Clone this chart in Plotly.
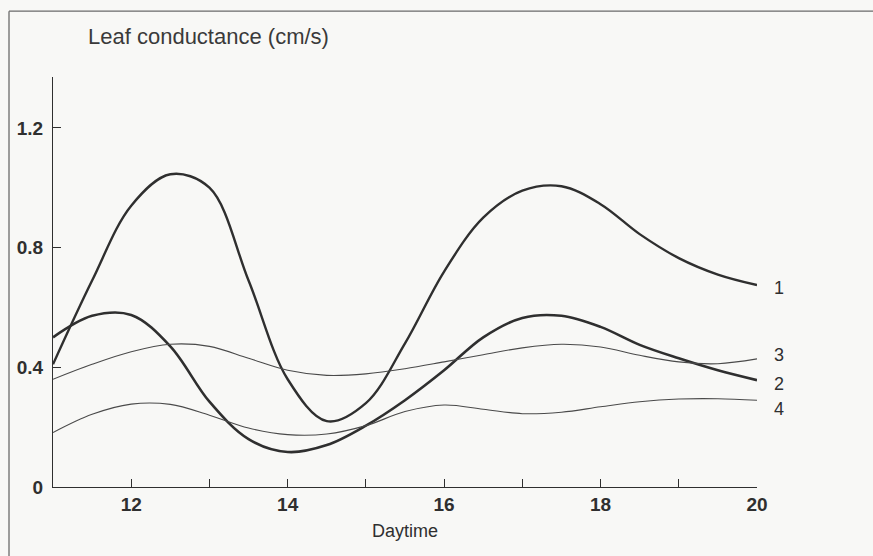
import plotly.graph_objects as go

# Leaf conductance (cm/s) over the afternoon for four leaves, read every half hour
hours = [11.0, 11.5, 12.0, 12.5, 13.0, 13.5, 14.0, 14.5, 15.0, 15.5,
         16.0, 16.5, 17.0, 17.5, 18.0, 18.5, 19.0, 19.5, 20.0]
cond_1 = [0.41, 0.69, 0.94, 1.045, 1.0, 0.69, 0.36, 0.22, 0.28, 0.48,
          0.72, 0.90, 0.99, 1.005, 0.945, 0.845, 0.765, 0.71, 0.675]
cond_2 = [0.50, 0.572, 0.575, 0.47, 0.285, 0.16, 0.117, 0.14, 0.205, 0.29,
          0.39, 0.50, 0.565, 0.572, 0.535, 0.475, 0.43, 0.39, 0.357]
cond_3 = [0.36, 0.41, 0.452, 0.477, 0.47, 0.43, 0.39, 0.373, 0.378, 0.395,
          0.418, 0.442, 0.465, 0.477, 0.468, 0.44, 0.418, 0.412, 0.428]
cond_4 = [0.182, 0.243, 0.277, 0.276, 0.24, 0.197, 0.175, 0.177, 0.205, 0.252,
          0.274, 0.26, 0.245, 0.25, 0.268, 0.285, 0.294, 0.295, 0.29]

series_names = ["1", "2", "3", "4"]
hour_ticks = [12, 13, 14, 15, 16, 17, 18, 19, 20]
hour_tick_text = ["12", "", "14", "", "16", "", "18", "", "20"]
cond_ticks = [0, 0.4, 0.8, 1.2]
cond_tick_text = ["0", "0.4", "0.8", "1.2"]

INK = "#2f2f2f"
THIN = "#4a4a4a"
PAPER = "#f8f8f6"
FONT = "Liberation Sans, Arial, sans-serif"

fig = go.Figure()
curves = [
    (cond_1, INK, 2.4),
    (cond_2, INK, 2.6),
    (cond_3, THIN, 1.1),
    (cond_4, THIN, 1.1),
]
for (ys, color, width), name in zip(curves, series_names):
    fig.add_trace(go.Scatter(
        x=hours, y=ys, mode="lines", name=name,
        line=dict(color=color, width=width, shape="spline", smoothing=1.0),
        showlegend=False, hoverinfo="skip",
    ))

# curve numbers at the right-hand ends
label_offsets = {"1": -3, "2": -4, "3": 4, "4": -9}
for (ys, _, _), name in zip(curves, series_names):
    fig.add_annotation(
        x=hours[-1], y=ys[-1], xref="x", yref="y", text=name, showarrow=False,
        xanchor="left", yanchor="middle", xshift=15, yshift=label_offsets[name],
        font=dict(family=FONT, size=18, color=INK),
    )

# y-axis heading above the plot
fig.add_annotation(
    x=0.047, y=1.098, xref="paper", yref="paper", text="Leaf conductance (cm/s)",
    showarrow=False, xanchor="left", yanchor="middle",
    font=dict(family=FONT, size=22, color="#3a3a3a"),
)

# outer frame lines (left and top)
fig.add_shape(type="line", xref="paper", yref="paper",
              x0=-0.0625, x1=-0.0625, y0=-0.3, y1=1.1606,
              line=dict(color="#6a6a6a", width=1.3))
fig.add_shape(type="line", xref="paper", yref="paper",
              x0=-0.0625, x1=1.25, y0=1.1606, y1=1.1606,
              line=dict(color="#6a6a6a", width=1.3))

tick_font = dict(family=FONT, size=19, color=INK, weight="bold")

fig.update_xaxes(
    range=[11, 20], tickvals=hour_ticks, ticktext=hour_tick_text,
    ticks="inside", ticklen=8, tickwidth=1, tickcolor=INK,
    showline=True, linecolor=INK, linewidth=1.2, showgrid=False, zeroline=False,
    tickfont=tick_font,
    title=dict(text="Daytime", standoff=10, font=dict(family=FONT, size=18, color=INK)),
)
fig.update_yaxes(
    range=[0, 1.37], tickvals=cond_ticks, ticktext=cond_tick_text,
    ticks="inside", ticklen=8, tickwidth=1, tickcolor=INK,
    showline=True, linecolor=INK, linewidth=1.2, showgrid=False, zeroline=False,
    tickfont=tick_font, ticklabelstandoff=5,
)

fig.update_layout(
    width=873, height=556,
    margin=dict(l=53, r=116, t=77, b=69),
    paper_bgcolor=PAPER, plot_bgcolor=PAPER,
)

fig.write_html("out.html")
